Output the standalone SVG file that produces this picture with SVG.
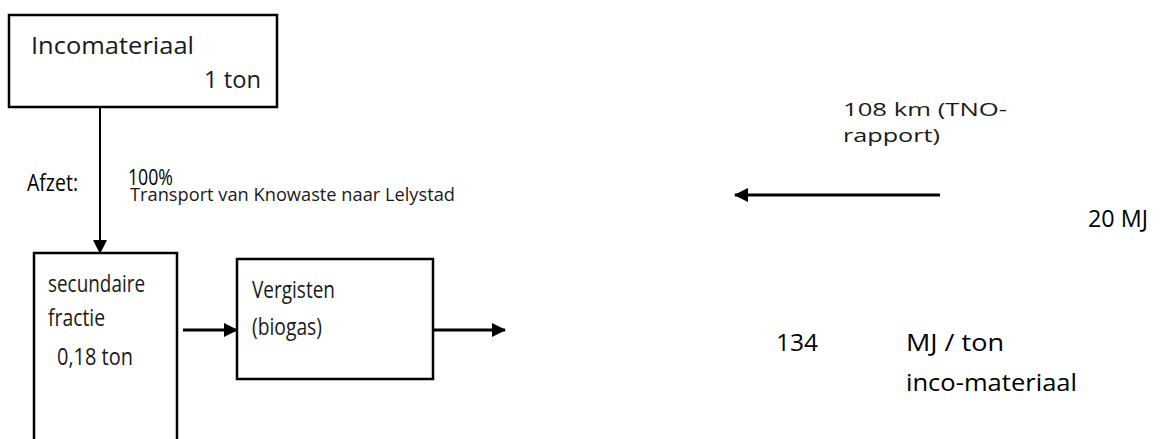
<svg xmlns="http://www.w3.org/2000/svg" width="1163" height="439" viewBox="0 0 1163 439">
  <style>
    .box { fill: #ffffff; stroke: #000000; stroke-width: 2.5; }
    .link { fill: none; stroke: #000000; }
    .thin { stroke-width: 2; }
    .thick { stroke-width: 3; }
    text { font-family: "Open Sans", "Noto Sans", "Liberation Sans", sans-serif; font-size: 24px; fill: #000000; }
    .soft { fill: #1a1a1a; }
    .inbox { font-size: 23px; }
    .pct { font-size: 21px; }
    .note { font-size: 19px; }
    .route { font-size: 19px; }
  </style>
  <defs>
    <marker id="head" viewBox="0 0 14 14" refX="13" refY="7" markerWidth="14" markerHeight="14" markerUnits="userSpaceOnUse" orient="auto">
      <path d="M0,0 L14,7 L0,14 Z" fill="#000000"/>
    </marker>
  </defs>

  <rect width="1163" height="439" fill="#ffffff"/>

  <!-- connectors -->
  <g id="connectors">
    <line class="link thin" x1="100" y1="107" x2="100" y2="253" marker-end="url(#head)"/>
    <line class="link thick" x1="183" y1="330" x2="237" y2="330" marker-end="url(#head)"/>
    <line class="link thick" x1="433" y1="330" x2="505" y2="330" marker-end="url(#head)"/>
    <line class="link thick" x1="940" y1="195" x2="735" y2="195" marker-end="url(#head)"/>
  </g>

  <!-- input material -->
  <g id="incomateriaal">
    <rect class="box" x="9" y="15" width="268" height="92"/>
    <text class="soft inbox" x="31" y="54" textLength="163" lengthAdjust="spacingAndGlyphs">Incomateriaal</text>
    <text class="soft inbox" x="204" y="88" textLength="57" lengthAdjust="spacingAndGlyphs">1 ton</text>
  </g>

  <!-- transport labels -->
  <g id="afzet">
    <text x="27" y="191" textLength="51" lengthAdjust="spacingAndGlyphs">Afzet:</text>
    <text class="pct" x="128" y="185" textLength="45" lengthAdjust="spacingAndGlyphs">100%</text>
    <text class="soft route" x="130" y="201" textLength="325" lengthAdjust="spacingAndGlyphs">Transport van Knowaste naar Lelystad</text>
  </g>

  <!-- secondary fraction (box runs past the bottom edge) -->
  <g id="secundaire-fractie">
    <rect class="box" x="34" y="253" width="143" height="220"/>
    <text class="soft inbox" x="48" y="292" textLength="97" lengthAdjust="spacingAndGlyphs">secundaire</text>
    <text class="soft inbox" x="48" y="326" textLength="57" lengthAdjust="spacingAndGlyphs">fractie</text>
    <text class="soft inbox" x="57" y="365" textLength="76" lengthAdjust="spacingAndGlyphs">0,18 ton</text>
  </g>

  <!-- digestion -->
  <g id="vergisten">
    <rect class="box" x="237" y="259" width="196" height="120"/>
    <text class="soft inbox" x="252" y="298" textLength="83" lengthAdjust="spacingAndGlyphs">Vergisten</text>
    <text class="soft inbox" x="252" y="335" textLength="70" lengthAdjust="spacingAndGlyphs">(biogas)</text>
  </g>

  <!-- distance note -->
  <g id="afstand">
    <text class="soft note" x="843" y="116" textLength="164" lengthAdjust="spacingAndGlyphs">108 km (TNO-</text>
    <text class="soft note" x="843" y="142" textLength="97" lengthAdjust="spacingAndGlyphs">rapport)</text>
    <text x="1088" y="227" textLength="60" lengthAdjust="spacingAndGlyphs">20 MJ</text>
  </g>

  <!-- energy yield -->
  <g id="opbrengst">
    <text x="776" y="351" textLength="42" lengthAdjust="spacingAndGlyphs">134</text>
    <text x="906" y="351" textLength="98" lengthAdjust="spacingAndGlyphs">MJ / ton</text>
    <text x="906" y="391" textLength="171" lengthAdjust="spacingAndGlyphs">inco-materiaal</text>
  </g>
</svg>
